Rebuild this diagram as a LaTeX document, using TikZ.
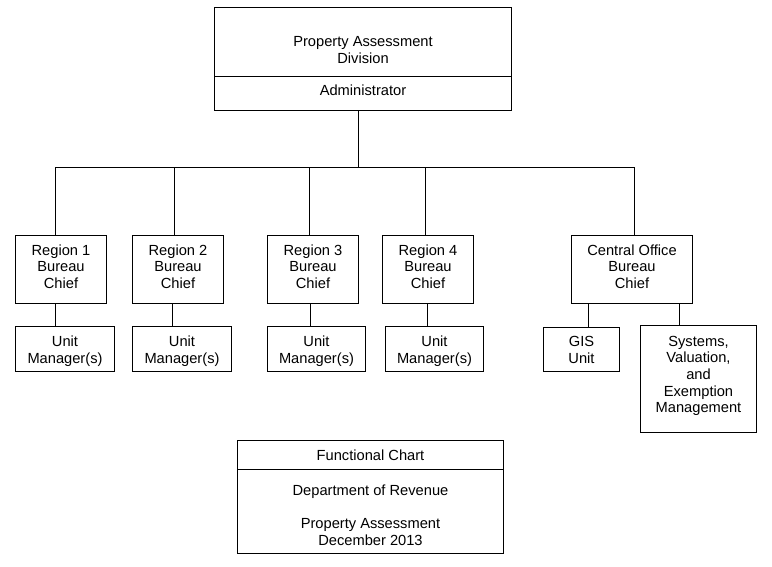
\documentclass[tikz,border=0pt]{standalone}
\usepackage{fontspec}
\setmainfont{Liberation Sans}
\usepackage{tikz}
\usetikzlibrary{positioning}

\newcommand{\headroom}[1]{\rule{0pt}{#1}}

\tikzset{
  orgbox/.style={draw, line width=0.75pt, inner sep=0pt, outer sep=0pt, align=center,
    execute at end node={\rule[-2.33pt]{0pt}{2.33pt}}},
  lift/.style={execute at end node={\rule[-#1]{0pt}{#1}}},
  link/.style={line width=0.75pt}
}

\begin{document}
\begin{tikzpicture}[x=0.75pt, y=-0.75pt, font=\fontsize{11}{12.5}\selectfont]
    \useasboundingbox (0,0) rectangle (772,567);

    % put the 1px lines on pixel centres
    \begin{scope}[shift={(0.5,0.5)}]
        % Division box
        \node[orgbox, minimum width=297*0.75pt, minimum height=69*0.75pt] (title) at (362.5,41.5)
            {\headroom{22pt}Property Assessment\\Division};
        \node[orgbox, lift=4.7pt, minimum width=297*0.75pt, minimum height=34*0.75pt, anchor=north] (adm) at (title.south)
            {Administrator};

        % Define box sizes
        \def\rw{91*0.75pt}
        \def\rh{68*0.75pt}
        \def\uh{45*0.75pt}

        % Bureau chiefs
        \node[orgbox, lift=4.4pt, minimum width=\rw, minimum height=\rh] (r1) at (60.5,269) {Region 1\\Bureau\\Chief};
        \node[orgbox, lift=4.4pt, minimum width=\rw, minimum height=\rh] (r2) at (177.5,269) {Region 2\\Bureau\\Chief};
        \node[orgbox, lift=4.4pt, minimum width=\rw, minimum height=\rh] (r3) at (312.5,269) {Region 3\\Bureau\\Chief};
        \node[orgbox, lift=4.4pt, minimum width=\rw, minimum height=\rh] (r4) at (427.5,269) {Region 4\\Bureau\\Chief};
        \node[orgbox, lift=4.4pt, minimum width=121*0.75pt, minimum height=\rh] (co) at (631.5,269) {Central Office\\Bureau\\Chief};

        % Units
        \node[orgbox, minimum width=99*0.75pt, minimum height=\uh] (u1) at (64.5,348.5) {\headroom{11pt}Unit\\Manager(s)};
        \node[orgbox, minimum width=99*0.75pt, minimum height=\uh] (u2) at (181.5,348.5) {\headroom{11pt}Unit\\Manager(s)};
        \node[orgbox, minimum width=98*0.75pt, minimum height=\uh] (u3) at (316,348.5) {\headroom{11pt}Unit\\Manager(s)};
        \node[orgbox, minimum width=98*0.75pt, minimum height=\uh] (u4) at (434,348.5) {\headroom{11pt}Unit\\Manager(s)};
        \node[orgbox, minimum width=76*0.75pt, minimum height=44*0.75pt] (gis) at (581,349) {\headroom{11pt}GIS\\Unit};
        \node[orgbox, lift=6.7pt, minimum width=116*0.75pt, minimum height=107*0.75pt] (sys) at (698,378.5)
            {Systems,\\Valuation,\\and\\Exemption\\Management};

        % Chart legend
        \node[orgbox, minimum width=266*0.75pt, minimum height=29*0.75pt] (fc) at (370,454.5) {\headroom{10.3pt}Functional Chart};
        \node[orgbox, minimum width=266*0.75pt, minimum height=84*0.75pt, anchor=north] (dor) at (fc.south)
            {\headroom{15.5pt}Department of Revenue\\[12.5pt]Property Assessment\\December 2013};

        % Bus to the bureau chiefs
        \coordinate (bus) at (0,167);
        \coordinate (t0) at ([xshift=-4.5*0.75pt]adm.south);
        \coordinate (t1) at ([xshift=-5.5*0.75pt]r1.north);
        \coordinate (t2) at ([xshift=-3.5*0.75pt]r2.north);
        \coordinate (t3) at ([xshift=-3.5*0.75pt]r3.north);
        \coordinate (t4) at ([xshift=-2.5*0.75pt]r4.north);
        \coordinate (t5) at ([xshift=2.5*0.75pt]co.north);
        \draw[link] (t1 |- bus) -- (t5 |- bus);
        \foreach \t in {t0,t1,t2,t3,t4,t5}
            \draw[link] (\t) -- (\t |- bus);

        % Chiefs to units
        \foreach \u/\r/\dx in {u1/r1/-9.5, u2/r2/-9.5, u3/r3/-6, u4/r4/-7, gis/co/7, sys/co/-19} {
            \coordinate (c) at ([xshift=\dx*0.75pt]\u.north);
            \draw[link] (c) -- (c |- \r.south);
        }
    \end{scope}
\end{tikzpicture}
\end{document}
